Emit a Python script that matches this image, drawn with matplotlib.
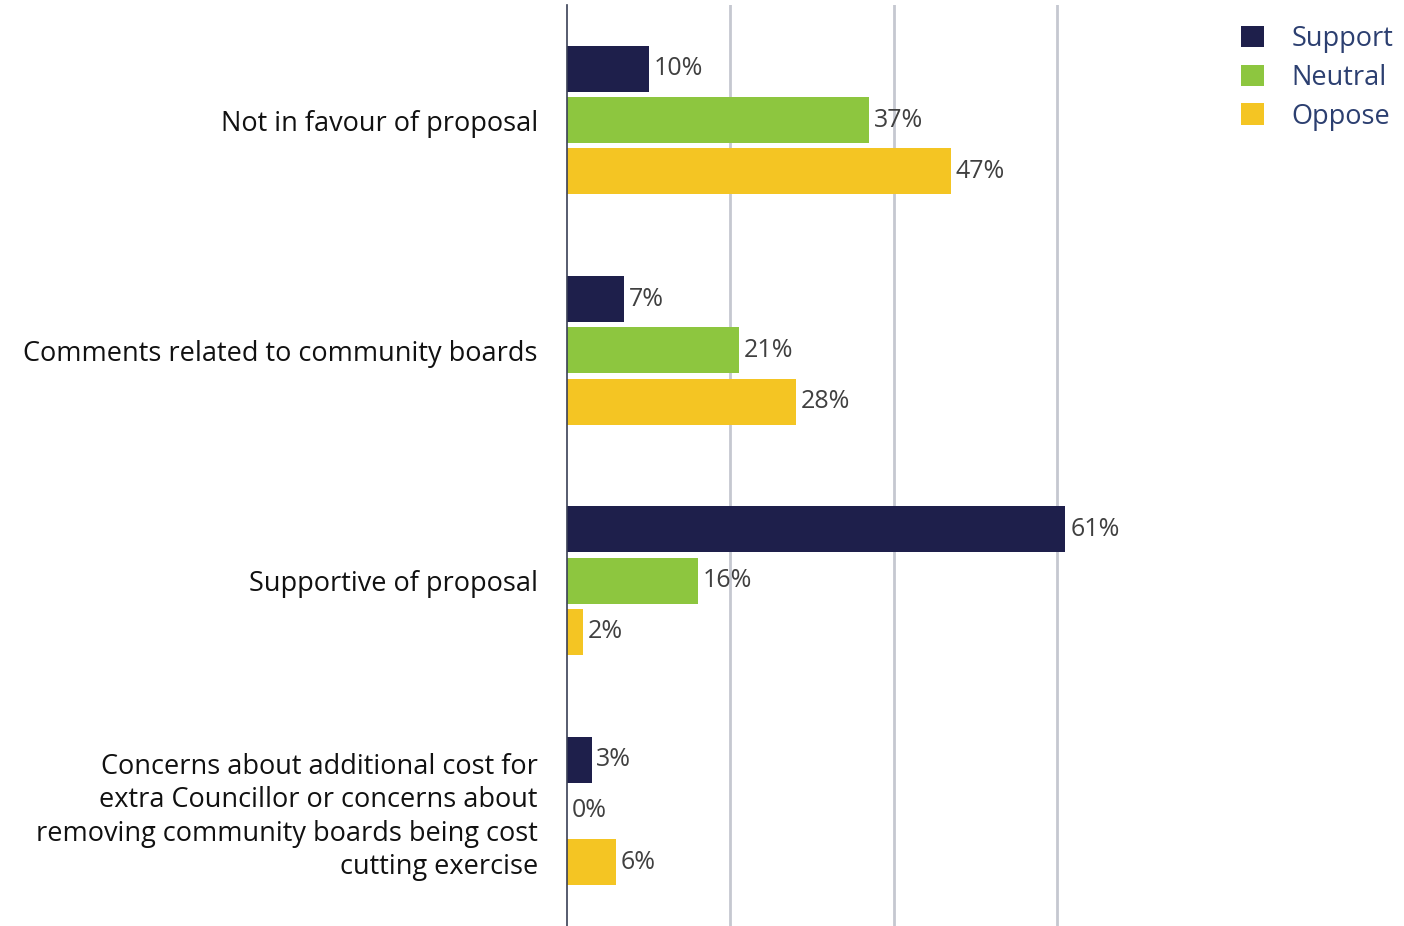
import numpy as np
import matplotlib.pyplot as plt

plt.rcParams['font.family'] = ['Open Sans', 'DejaVu Sans']

# Themes and share of each submission type
kategori = [
    "Not in favour of proposal",
    "Comments related to community boards",
    "Supportive of proposal",
    "Concerns about additional cost for\nextra Councillor or concerns about\nremoving community boards being cost\ncutting exercise",
]
seri = ["Support", "Neutral", "Oppose"]
support = [10, 7, 61, 3]
neutral = [37, 21, 16, 0]
oppose = [47, 28, 2, 6]

warna = ["#1e1f4b", "#8dc63f", "#f4c523"]

fig = plt.figure(figsize=(14.04, 9.26), dpi=100)
ax = fig.add_axes([567 / 1404, 0, 572 / 1404, 1 - 5 / 926])

y = np.arange(len(kategori))
tinggi = 0.2
geser = 0.223

for i, (nama, nilai) in enumerate(zip(seri, [support, neutral, oppose])):
    pos = y + (i - 1) * geser
    bars = ax.barh(pos, nilai, height=tinggi, color=warna[i], label=nama, zorder=2)
    for b, v in zip(bars, nilai):
        ax.text(b.get_width() + 0.6, b.get_y() + b.get_height() / 2, f"{v}%",
                va="center", ha="left", fontsize=18, color="#404040", zorder=3)

ax.set_xlim(0, 70)
ax.set_ylim(len(kategori) - 0.5, -0.5)
ax.set_xticks([20, 40, 60])
ax.set_xticklabels([])
ax.tick_params(axis="x", length=0)
ax.tick_params(axis="y", length=0, pad=21)
ax.set_yticks(y)
ax.set_yticklabels(kategori, fontsize=19.5, color="#111111", linespacing=1.25)
ax.grid(axis="x", color="#c5c8d0", linewidth=2, zorder=0)

for s in ["top", "right", "bottom"]:
    ax.spines[s].set_visible(False)
ax.spines["left"].set_color("#3a3f55")
ax.spines["left"].set_linewidth(1.2)

leg = fig.legend(loc="upper right", bbox_to_anchor=(1.0057, 0.9935), frameon=False,
                 fontsize=19.5, handlelength=0.85, handleheight=0.85, handletextpad=1.0,
                 labelspacing=0.4, borderaxespad=0.3)
for t in leg.get_texts():
    t.set_color("#2c3f70")

fig.savefig("out.png", dpi=100)
